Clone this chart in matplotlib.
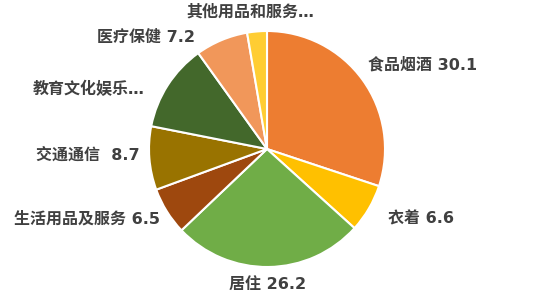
import matplotlib
matplotlib.use("Agg")
import matplotlib.pyplot as plt

# 居民消费支出构成 (%)
categories = ["食品烟酒", "衣着", "居住", "生活用品及服务", "交通通信",
              "教育文化娱乐", "医疗保健", "其他用品和服务"]
values = [30.1, 6.6, 26.2, 6.5, 8.7, 12.0, 7.2, 2.7]
label_texts = ["食品烟酒 30.1", "衣着 6.6", "居住 26.2", "生活用品及服务 6.5",
               "交通通信  8.7", "教育文化娱乐…", "医疗保健 7.2", "其他用品和服务…"]
colors = ["#ED7D31", "#FFC000", "#70AD47", "#9E480E",
          "#997300", "#43682B", "#F1975A", "#FFCD33"]

# label anchor (pixel coords, y down) and alignment
label_pos = [(368, 65, "left"), (388, 219, "left"), (268, 284, "center"),
             (160, 219, "right"), (140, 155, "right"), (145, 89, "right"),
             (195, 37, "right"), (250, 12, "center")]

W, H = 534, 299
fig = plt.figure(figsize=(W / 100, H / 100), dpi=100)
ax = fig.add_axes([0, 0, 1, 1])

ax.pie(values, colors=colors, startangle=90, counterclock=False,
       center=(267, H - 149), radius=118,
       wedgeprops=dict(edgecolor="white", linewidth=1.5))

# pie() resets limits, so set them afterwards
ax.set_xlim(0, W)
ax.set_ylim(0, H)
ax.set_aspect("equal")
ax.axis("off")

fam = ["DejaVu Sans", "Noto Sans CJK SC"]
for txt, (x, y, ha) in zip(label_texts, label_pos):
    ax.text(x, H - y, txt, ha=ha, va="center", fontsize=11.5,
            fontweight="bold", color="#404040", family=fam)

fig.savefig("out.png", dpi=100)
